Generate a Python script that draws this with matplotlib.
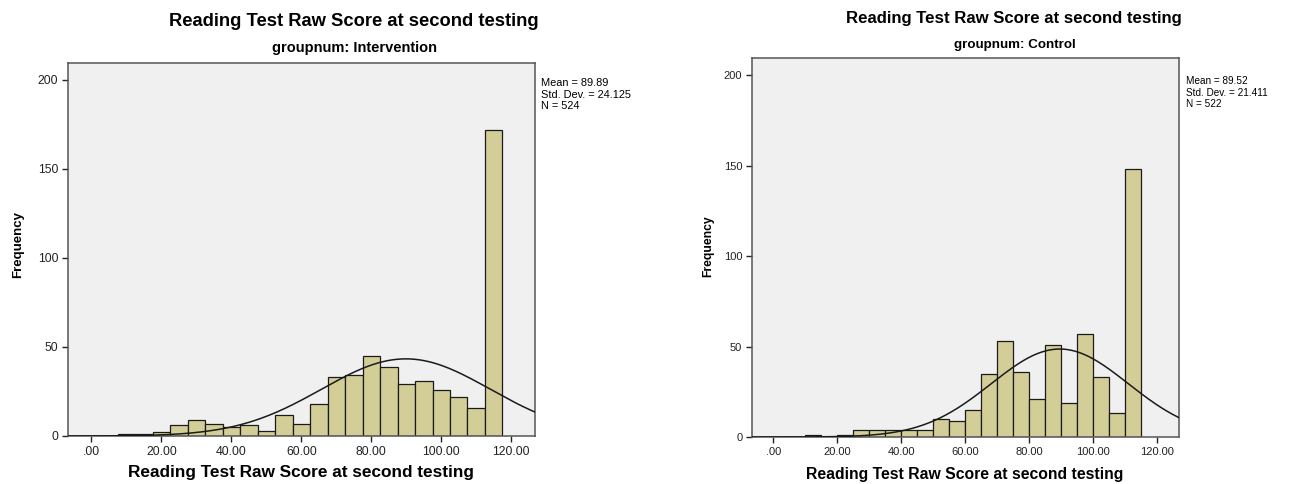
import numpy as np
import matplotlib.pyplot as plt

plt.rcParams['font.family'] = ['Liberation Sans', 'DejaVu Sans']

# bin width 5, bar centres
int_centers = list(range(10, 120, 5))
int_counts = [1, 1, 2, 6, 9, 7, 5, 6, 3, 12, 7, 18, 33, 34, 45, 39, 29, 31, 26, 22, 16, 172]
int_mean, int_sd, int_n = 89.89, 24.125, 524

ctl_centers = [x + 2.5 for x in range(10, 115, 5)]
ctl_counts = [1, 0, 1, 4, 4, 4, 4, 4, 10, 9, 15, 35, 53, 36, 21, 51, 19, 57, 33, 13, 148]
ctl_mean, ctl_sd, ctl_n = 89.52, 21.411, 522

xticks = [0, 20, 40, 60, 80, 100, 120]
xticklabels = ['.00', '20.00', '40.00', '60.00', '80.00', '100.00', '120.00']
yticks = [0, 50, 100, 150, 200]

title = 'Reading Test Raw Score at second testing'
bar_color = '#d3ce97'
W, H = 1294, 484


def px(x, y):
    return x / W, 1 - y / H


def draw_panel(fig, rect, centers, counts, mean, sd, n, group, s, pos):
    # s: scale of this panel, pos: pixel positions of the texts
    ax = fig.add_axes(rect)
    ax.set_facecolor('#f0f0f0')
    ax.bar(centers, counts, width=5, color=bar_color, edgecolor='#1a1a1a', linewidth=0.9, zorder=2)
    xs = np.linspace(-7, 127, 300)
    curve = n * 5 / (sd * np.sqrt(2 * np.pi)) * np.exp(-0.5 * ((xs - mean) / sd) ** 2)
    ax.plot(xs, curve, color='#1a1a1a', linewidth=1.1, zorder=3)
    ax.set_xlim(-6.7, 126.8)
    ax.set_ylim(0, 209.5)
    ax.set_xticks(xticks)
    ax.set_xticklabels(xticklabels)
    ax.set_yticks(yticks)
    ax.tick_params(labelsize=8.8 * s, colors='#222222', length=4, width=1, pad=3)
    for sp in ax.spines.values():
        sp.set_color('#555555')
        sp.set_linewidth(1.1)

    fig.text(*px(*pos['title']), title, fontsize=13.2 * s, fontweight='bold', ha='center', va='center')
    fig.text(*px(*pos['sub']), 'groupnum: ' + group, fontsize=10.5 * s, fontweight='bold',
             ha='center', va='center')
    fig.text(*px(*pos['xlabel']), title, fontsize=12.4 * s, fontweight='bold', ha='center', va='center')
    fig.text(*px(*pos['ylabel']), 'Frequency', fontsize=9.5 * s, fontweight='bold', ha='center',
             va='center', rotation=90)
    fig.text(*px(*pos['stats']), 'Mean = %.2f\nStd. Dev. = %.3f\nN = %d' % (mean, sd, n),
             fontsize=7.9 * s, va='top', ha='left', linespacing=1.2)
    return ax


fig = plt.figure(figsize=(W / 100, H / 100), dpi=100)

draw_panel(fig, [68 / W, 48 / H, 467 / W, 373 / H], int_centers, int_counts,
           int_mean, int_sd, int_n, 'Intervention', 1.0,
           {'title': (354, 21), 'sub': (355, 48), 'xlabel': (301, 473),
            'ylabel': (18, 244), 'stats': (541, 78)})

draw_panel(fig, [752 / W, 47 / H, 427 / W, 379 / H], ctl_centers, ctl_counts,
           ctl_mean, ctl_sd, ctl_n, 'Control', 0.915,
           {'title': (1014, 18), 'sub': (1015, 45), 'xlabel': (965, 475),
            'ylabel': (708, 246), 'stats': (1186, 76)})

fig.savefig('out.png', dpi=100)
